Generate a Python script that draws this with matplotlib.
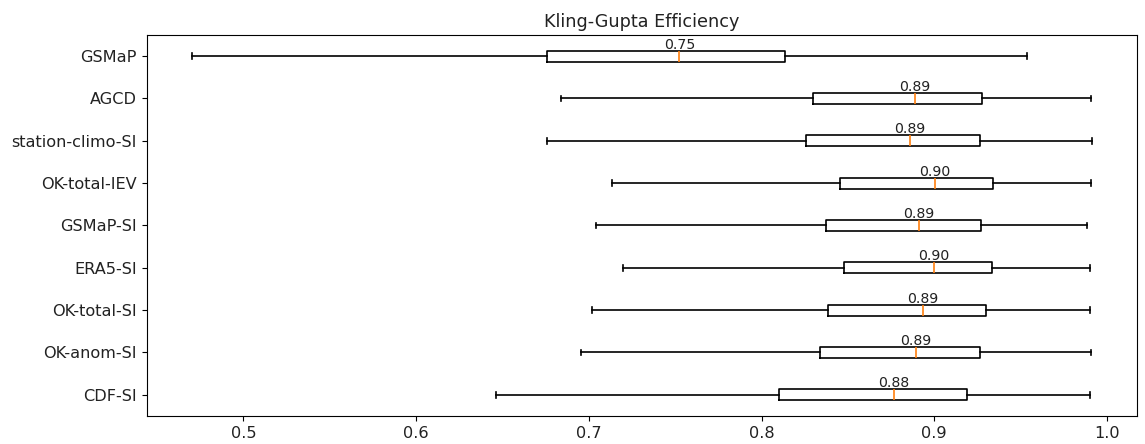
import matplotlib
matplotlib.use('Agg')
import matplotlib.pyplot as plt

# Kling-Gupta efficiency summary per product (top to bottom as drawn)
products = ['GSMaP', 'AGCD', 'station-climo-SI', 'OK-total-IEV', 'GSMaP-SI',
            'ERA5-SI', 'OK-total-SI', 'OK-anom-SI', 'CDF-SI']
kge_min = [0.470, 0.684, 0.676, 0.7135, 0.704, 0.720, 0.702, 0.6955, 0.646]
kge_q1 = [0.676, 0.830, 0.826, 0.8455, 0.8375, 0.848, 0.8385, 0.834, 0.810]
kge_med = [0.7525, 0.889, 0.886, 0.9005, 0.891, 0.900, 0.8935, 0.8895, 0.8765]
kge_q3 = [0.8135, 0.9277, 0.9266, 0.934, 0.9268, 0.9337, 0.930, 0.9266, 0.919]
kge_max = [0.954, 0.991, 0.9916, 0.991, 0.9887, 0.9903, 0.9903, 0.991, 0.990]

stats = []
for i in range(len(products)):
    stats.append({'label': products[i], 'whislo': kge_min[i], 'q1': kge_q1[i],
                  'med': kge_med[i], 'q3': kge_q3[i], 'whishi': kge_max[i],
                  'fliers': []})
stats = stats[::-1]
positions = list(range(1, len(stats) + 1))

fig = plt.figure(figsize=(11.45, 4.44), dpi=100)
ax = fig.add_axes([0.1281, 0.0631, 0.8652, 0.8581])

ax.bxp(stats, positions=positions, vert=False, widths=0.26, showfliers=False,
       boxprops=dict(linewidth=1.2), whiskerprops=dict(linewidth=1.2),
       capprops=dict(linewidth=1.2), medianprops=dict(linewidth=1.2, color='C1'))

# median value written above each box
for pos, s in zip(positions, stats):
    ax.text(s['med'], pos + 0.18, '%.2f' % s['med'], ha='center',
            va='baseline', fontsize=10.2, color='#222222')

ax.set_xlim(0.444, 1.0176)
ax.set_ylim(0.5, len(stats) + 0.5)
ax.set_xticks([0.5, 0.6, 0.7, 0.8, 0.9, 1.0])
ax.tick_params(labelsize=11.6, labelcolor='#222222')
ax.set_title('Kling-Gupta Efficiency', fontsize=12.7, color='#222222')

plt.savefig('out.png', dpi=100)
